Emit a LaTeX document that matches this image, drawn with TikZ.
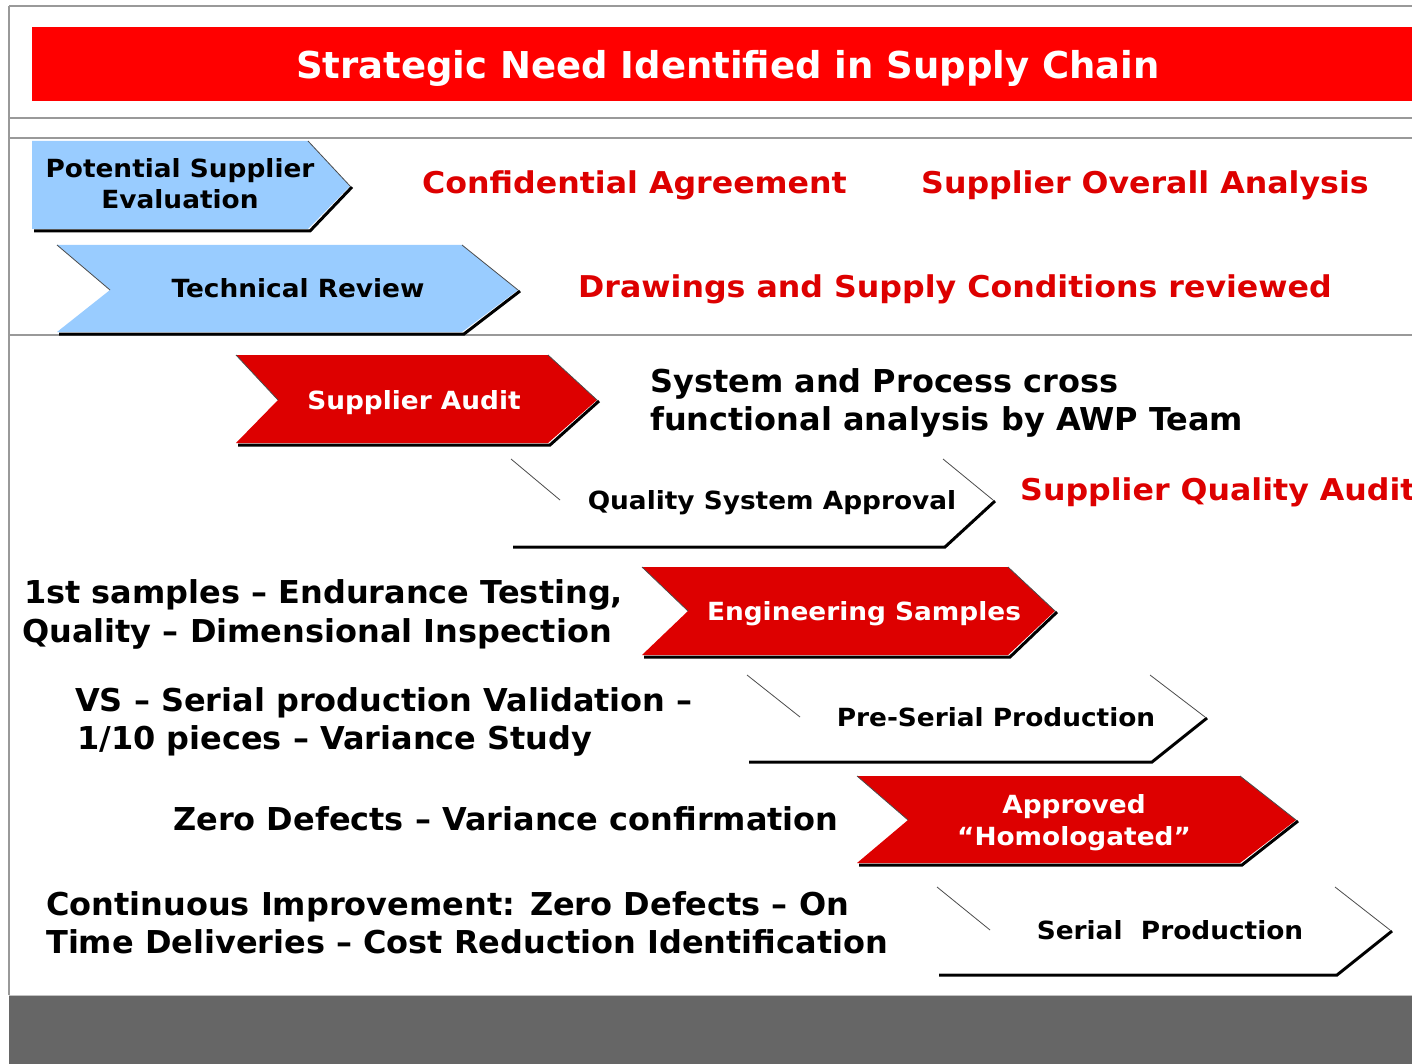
\documentclass[tikz,border=0pt]{standalone}
\usepackage{fontspec}
\setmainfont{DejaVu Sans}
\newfontfamily\chevfont[FakeStretch=1.055]{DejaVu Sans}
\newfontfamily\redfont[FakeStretch=1.055]{DejaVu Sans}
\newfontfamily\blkfont[FakeStretch=1.015]{DejaVu Sans}
\definecolor{topred}{HTML}{FF0000}
\definecolor{chevred}{HTML}{DD0000}
\definecolor{txtred}{HTML}{DD0000}
\definecolor{chevblue}{HTML}{99CCFF}
\definecolor{framegray}{HTML}{999999}
\definecolor{footgray}{HTML}{666666}
% #1 left x, #2 shoulder x, #3 tip x, #4 top y, #5 mid y, #6 bottom y, #7 notch x, #8 fill
\newcommand{\mychev}[8]{%
  \draw[shadowl] (#1+2,#6+2) -- (#2+2,#6+2) -- (#3+2,#5+1);
  \fill[#8] (#1,#4) -- (#2,#4) -- (#3,#5) -- (#2,#6) -- (#1,#6) -- (#7,#5) -- cycle;
  \draw[edgel] (#2,#4) -- (#3,#5);
}
\newcommand{\mynotch}[4]{\draw[edgel] (#1,#2) -- (#3,#4);}
\begin{document}
\begin{tikzpicture}[x=1pt,y=-1pt,
  framel/.style={draw=framegray,line width=2pt},
  shadowl/.style={line width=3pt,black,line join=miter},
  edgel/.style={line width=0.8pt,black!70},
  titletxt/.style={font=\bfseries\fontsize{37}{44}\selectfont,text=white,anchor=base,inner sep=0pt},
  chevtxt/.style={font=\chevfont\bfseries\fontsize{25}{30}\selectfont,anchor=base,inner sep=0pt},
  redtxt/.style={font=\redfont\bfseries\fontsize{30}{36}\selectfont,text=txtred,anchor=base west,inner sep=0pt},
  blktxt/.style={font=\blkfont\bfseries\fontsize{31.5}{38}\selectfont,anchor=base west,inner sep=0pt}]
\clip (0,0) rectangle (1412,1064);
\fill[white] (0,0) rectangle (1412,1064);
% frame
\draw[framel] (9,6) -- (1412,6);
\draw[framel] (9,6) -- (9,995);
\draw[framel] (9,118) -- (1412,118);
\draw[framel] (9,138) -- (1412,138);
\draw[framel] (9,335) -- (1412,335);
\fill[footgray] (9,995) rectangle (1412,1064);
\draw[draw=framegray!60,line width=1pt] (9,995) -- (1412,995);
% title
\fill[topred] (32,27) rectangle (1412,101);
\node[titletxt] (title) at (728,79) {Strategic Need Identified in Supply Chain};
% row 1
\mychev{32}{308}{350}{141}{186}{229}{32}{chevblue}
\node[chevtxt] (pse1) at (180,178) {Potential Supplier};
\node[chevtxt] (pse2) at (180,209) {Evaluation};
\node[redtxt] (conf) at (422,194) {Confidential Agreement};
\node[redtxt] (soa) at (921,194) {Supplier Overall Analysis};
% row 2
\mychev{57}{462}{518}{245}{290}{332}{110}{chevblue}
\mynotch{57}{245}{110}{290}
\node[chevtxt] (tr) at (298,298) {Technical Review};
\node[redtxt] (draw) at (578,298) {Drawings and Supply Conditions reviewed};
% row 3
\mychev{236}{548}{597}{355}{400}{443}{278}{chevred}
\mynotch{236}{355}{278}{400}
\node[chevtxt,text=white] (sa) at (414,409) {Supplier Audit};
\node[blktxt] (sys1) at (650,392) {System and Process cross};
\node[blktxt] (sys2) at (650,430) {functional analysis by AWP Team};
% row 4
\mychev{511}{943}{993}{459}{500}{545}{560}{white}
\mynotch{511}{459}{560}{500}
\node[chevtxt] (qsa) at (772,509) {Quality System Approval};
\node[redtxt] (sqa) at (1020,500) {Supplier Quality Audit};
% row 5
\mychev{642}{1008}{1055}{567}{611}{655}{688}{chevred}
\mynotch{642}{567}{688}{611}
\node[chevtxt,text=white] (es) at (864,620) {Engineering Samples};
\node[blktxt] (fs1) at (24,603) {1st samples – Endurance Testing,};
\node[blktxt] (fs2) at (22,642) {Quality – Dimensional Inspection};
% row 6
\mychev{747}{1150}{1205}{675}{717}{760}{800}{white}
\mynotch{747}{675}{800}{717}
\node[chevtxt] (psp) at (996,726) {Pre-Serial Production};
\node[blktxt] (vs1) at (75,711) {VS – Serial production Validation –};
\node[blktxt] (vs2) at (77,749) {1/10 pieces – Variance Study};
% row 7
\mychev{857}{1240}{1296}{776}{820}{863}{908}{chevred}
\mynotch{857}{776}{908}{820}
\node[chevtxt,text=white] (ap1) at (1074,813) {Approved};
\node[chevtxt,text=white] (ap2) at (1074,845) {“Homologated”};
\node[blktxt] (zd) at (173,830) {Zero Defects – Variance confirmation};
% row 8
\mychev{937}{1335}{1390}{887}{930}{973}{990}{white}
\mynotch{937}{887}{990}{930}
\node[chevtxt] (sp) at (1170,939) {Serial\ \ Production};
\node[blktxt] (ci1) at (46,915) {Continuous Improvement: Zero Defects – On};
\node[blktxt] (ci2) at (46,953) {Time Deliveries – Cost Reduction Identification};
\end{tikzpicture}
\end{document}
